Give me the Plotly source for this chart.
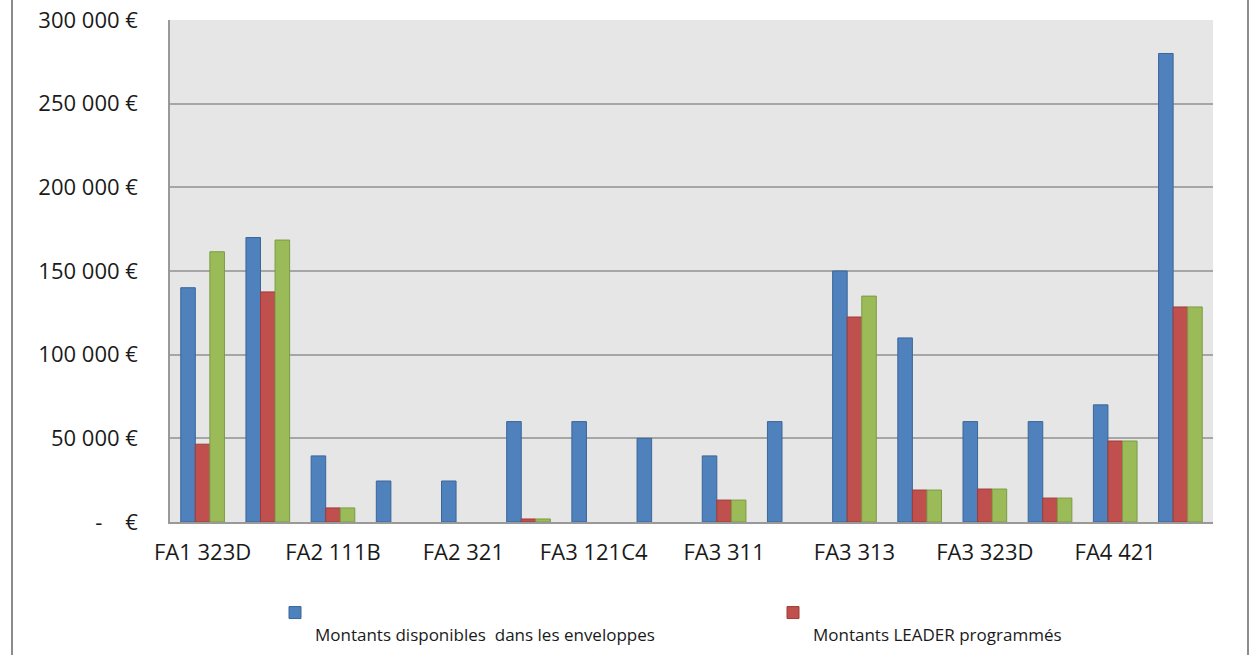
import plotly.graph_objects as go

categories = ["FA1 323D", "FA1 341B", "FA2 111B", "FA2 311", "FA2 321", "FA2 323D",
              "FA3 121C4", "FA3 123", "FA3 311", "FA3 312", "FA3 313", "FA3 321",
              "FA3 323D", "FA4 41", "FA4 421", "FA4 431"]
disponibles = [140000, 170000, 39500, 24500, 24500, 60000, 60000, 50000,
               39500, 60000, 150000, 110000, 60000, 60000, 70000, 280000]
programmes = [46500, 137500, 8400, 0, 0, 1800, 0, 0,
              13100, 0, 122500, 19100, 19700, 14300, 48400, 128500]
realises = [161500, 168500, 8400, 0, 0, 1800, 0, 0,
            13100, 0, 135000, 19100, 19700, 14300, 48400, 128500]
series_names = ["<br>Montants disponibles  dans les enveloppes",
                "<br>Montants LEADER programmés",
                "Montants LEADER réalisés"]
tick_vals = [0, 50000, 100000, 150000, 200000, 250000, 300000]
tick_text = ["-\u00a0\u00a0\u00a0\u00a0€", "50 000 €", "100 000 €", "150 000 €",
             "200 000 €", "250 000 €", "300 000 €"]

W, H = 1253, 655
# plot area in page pixels: x 170..1213, y 20..522
L, T = 170, 20
R = W - 1213
B = H - 522
pw, ph = W - L - R, H - T - B


def px_x(page_x):
    return (page_x - 170) / pw


def px_y(page_y):
    return (522 - page_y) / ph


fig = go.Figure()
fills = ["#4F81BD", "#C0504D", "#9BBB59"]
edges = ["#3A6699", "#9E3B38", "#7D9A45"]
legends = ["legend", "legend2", "legend"]
for name, vals, fc, ec, show, lg in zip(series_names, [disponibles, programmes, realises],
                                        fills, edges, [True, True, False], legends):
    fig.add_trace(go.Bar(x=categories, y=[v if v else None for v in vals], name=name,
                         marker_color=fc, marker_line_color=ec, marker_line_width=1,
                         showlegend=show, legend=lg))

font = "Open Sans, Liberation Sans, sans-serif"
leg_common = dict(orientation="h", xanchor="left", yanchor="top", valign="top",
                  y=px_y(595), font=dict(size=17, family=font),
                  bgcolor="rgba(0,0,0,0)")
fig.update_layout(
    width=W, height=H,
    margin=dict(l=L, r=R, t=T, b=B, autoexpand=False),
    paper_bgcolor="white", plot_bgcolor="#E6E6E6",
    barmode="group", bargap=0.33, bargroupgap=0.0,
    font=dict(family=font, color="#1a1a1a"),
    legend=dict(x=px_x(300 - 25), **leg_common),
    legend2=dict(x=px_x(798 - 25), **leg_common),
    xaxis=dict(type="category", dtick=2, showline=True, linecolor="#999999",
               linewidth=1.5, ticks="", showgrid=False,
               tickfont=dict(size=22, family=font), ticklabelstandoff=10),
    yaxis=dict(range=[0, 300000], tickvals=tick_vals, ticktext=tick_text,
               showline=True, linecolor="#999999", linewidth=1.5,
               gridcolor="#A6A6A6", gridwidth=1.5, ticks="", zeroline=False,
               ticklabeloverflow="allow",
               tickfont=dict(size=22, family=font), ticklabelstandoff=26),
    shapes=[dict(type="line", xref="paper", yref="paper",
                 x0=px_x(xp), x1=px_x(xp), y0=px_y(700), y1=px_y(-20),
                 line=dict(color="#8C8C8C", width=2), layer="below")
            for xp in (12, 1248)],
)
fig.write_html("out.html", config={"displayModeBar": False},
               post_script="document.body.style.margin='0';"
                           "document.body.style.overflow='hidden';")
